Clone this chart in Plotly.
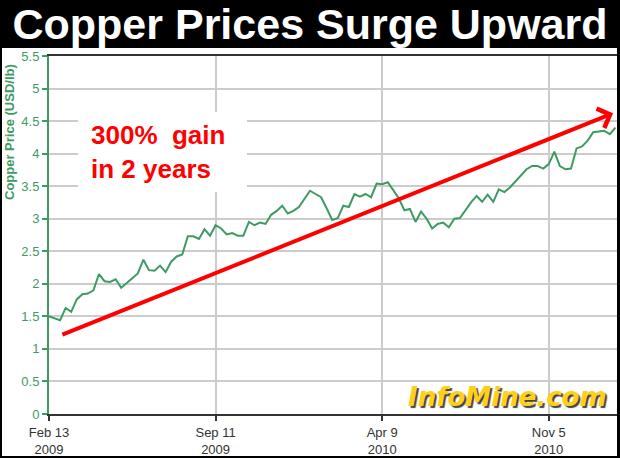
import pandas as pd
import plotly.graph_objects as go

# ---- data ----
start_date = "2009-02-13"
copper_price = [
    1.50, 1.47, 1.44, 1.63, 1.57, 1.76, 1.84, 1.85, 1.90, 2.15,
    2.04, 2.03, 2.07, 1.94, 2.01, 2.08, 2.16, 2.37, 2.21, 2.20,
    2.28, 2.18, 2.34, 2.42, 2.45, 2.73, 2.73, 2.69, 2.84, 2.74,
    2.90, 2.85, 2.76, 2.78, 2.74, 2.74, 2.95, 2.90, 2.94, 2.92,
    3.06, 3.12, 3.20, 3.08, 3.12, 3.18, 3.31, 3.43, 3.38, 3.33,
    3.16, 2.98, 3.01, 3.20, 3.18, 3.38, 3.34, 3.38, 3.33, 3.54,
    3.53, 3.56, 3.44, 3.31, 3.13, 3.15, 2.95, 3.11, 3.00, 2.85,
    2.92, 2.94, 2.87, 3.00, 3.01, 3.14, 3.25, 3.35, 3.26, 3.37,
    3.26, 3.45, 3.41, 3.48, 3.57, 3.67, 3.76, 3.81, 3.81, 3.77,
    3.84, 4.03, 3.81, 3.76, 3.77, 4.08, 4.11, 4.20, 4.33, 4.34,
    4.35, 4.30, 4.40,
]
dates = pd.date_range(start=start_date, periods=len(copper_price), freq="7D")

x_tick_vals = ["2009-02-13", "2009-09-11", "2010-04-09", "2010-11-05"]
x_tick_text = ["Feb 13<br>2009", "Sep 11<br>2009", "Apr 9<br>2010", "Nov 5<br>2010"]
y_tick_vals = [0, 0.5, 1, 1.5, 2, 2.5, 3, 3.5, 4, 4.5, 5, 5.5]
y_tick_text = ["0", "0.5", "1", "1.5", "2", "2.5", "3", "3.5", "4", "4.5", "5", "5.5"]

trend_start = ("2009-02-28", 1.21)
trend_end = ("2011-01-25", 4.62)

GREEN = "#3d9b62"
FONT = "Liberation Sans, Arial, sans-serif"

fig = go.Figure()
fig.add_trace(go.Scatter(
    x=dates, y=copper_price, mode="lines",
    line=dict(color=GREEN, width=2), hoverinfo="skip", showlegend=False,
))

fig.update_layout(
    width=620, height=458,
    margin=dict(l=49, r=3, t=56, b=44, autoexpand=False),
    paper_bgcolor="black", plot_bgcolor="white",
    title=dict(text="<b>Copper Prices Surge Upward</b>", x=0.50, xanchor="center",
               y=1 - 24 / 458, yanchor="middle",
               font=dict(family=FONT, size=43, color="white")),
    xaxis=dict(
        type="date", range=["2009-02-13", "2011-01-30"], automargin=False,
        tickvals=x_tick_vals, ticktext=x_tick_text,
        tickfont=dict(family=FONT, size=13, color="#333333"),
        ticks="outside", ticklen=5, tickcolor="#333333", tickwidth=1.5,
        showgrid=True, gridcolor="#cccccc", gridwidth=1.5,
        showline=True, linecolor="#333333", linewidth=2, mirror=True,
        zeroline=False, fixedrange=True,
    ),
    yaxis=dict(
        range=[0, 5.5], tickvals=y_tick_vals, ticktext=y_tick_text, automargin=False,
        tickfont=dict(family=FONT, size=13, color=GREEN),
        ticks="outside", ticklen=5, tickcolor=GREEN, tickwidth=1.5,
        showgrid=True, gridcolor="#cccccc", gridwidth=1.5,
        showline=True, linecolor=GREEN, linewidth=2,
        zeroline=False, fixedrange=True,
    ),
    shapes=[
        # white chart frame on black page
        dict(type="rect", xref="paper", yref="paper", layer="below",
             x0=(2 - 49) / 568, x1=1.0, y0=(414 - 456) / 358, y1=(414 - 48) / 358,
             fillcolor="white", line=dict(width=0)),
        # white box behind the callout text
        dict(type="rect", xref="paper", yref="paper", layer="above",
             x0=(78 - 49) / 568, x1=(247 - 49) / 568,
             y0=(414 - 192) / 358, y1=(414 - 112) / 358,
             fillcolor="white", line=dict(width=0)),
    ],
)

fig.add_annotation(
    x=trend_end[0], y=trend_end[1], ax=trend_start[0], ay=trend_start[1],
    xref="x", yref="y", axref="x", ayref="y", text="",
    showarrow=True, arrowhead=4, arrowsize=1, arrowwidth=4, arrowcolor="#ff0000",
)
fig.add_annotation(
    text="<b>300%\u00a0 gain<br>in 2 years</b>", xref="paper", yref="paper",
    x=(89 - 49) / 568, y=(414 - 152) / 358, xanchor="left", yanchor="middle",
    align="left", showarrow=False,
    font=dict(family=FONT, size=26, color="#ff0000"),
)
fig.add_annotation(
    text="<b>Copper Price (USD/lb)</b>", xref="paper", yref="paper",
    x=(9 - 49) / 568, y=(414 - 132) / 358, xanchor="center", yanchor="middle",
    textangle=-90, showarrow=False,
    font=dict(family=FONT, size=13, color=GREEN),
)
fig.add_annotation(
    text="<b><i>InfoMine.com</i></b>", xref="paper", yref="paper",
    x=(507 - 49) / 568, y=(414 - 397) / 358, xanchor="center", yanchor="middle",
    showarrow=False,
    font=dict(family="DejaVu Sans, sans-serif", size=26, color="#ffd01a",
              shadow="2px 2px 1px #444444"),
)

fig.write_html("out.html", config={"displayModeBar": False},
               post_script="document.body.style.margin='0';")
